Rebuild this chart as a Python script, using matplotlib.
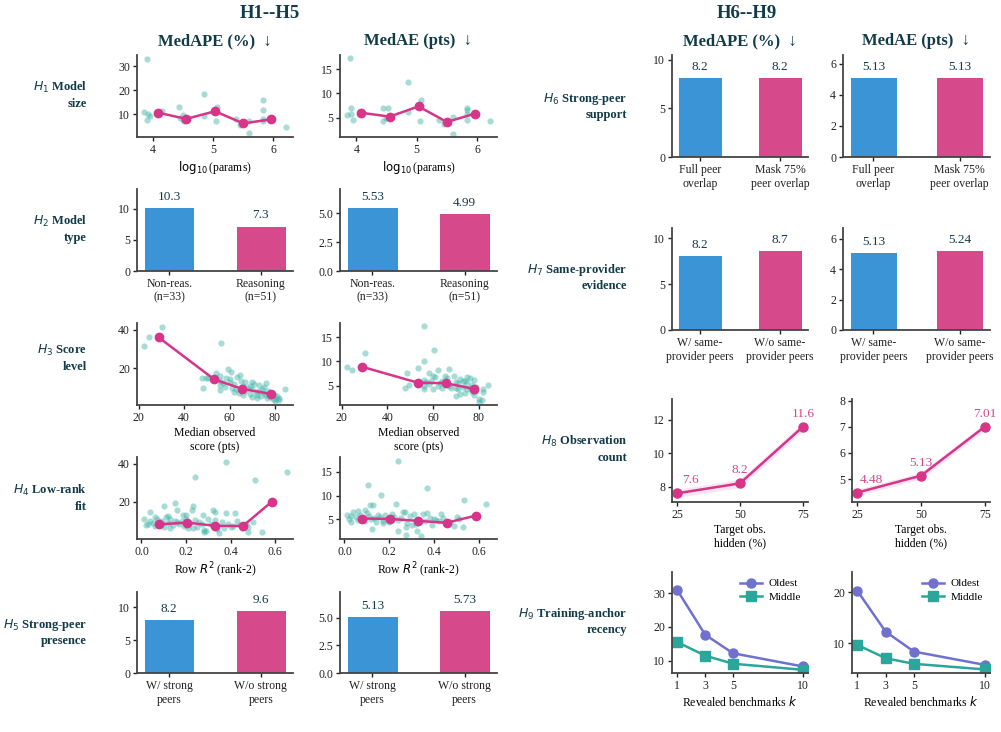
import numpy as np
import matplotlib
matplotlib.use("Agg")
import matplotlib.pyplot as plt

plt.rcParams['font.family'] = ['Liberation Serif', 'DejaVu Serif']

# ---------------- data ----------------
# H1: model size
h1_ape_x = [3.90, 3.85, 3.90, 3.95, 3.91, 4.14, 4.43, 4.44, 4.50, 4.50, 4.52, 4.85, 4.85, 5.07, 5.05,
            5.38, 5.45, 5.60, 5.60, 5.83, 5.83, 5.83, 5.83, 6.21]
h1_ape_y = [33.0, 11.0, 7.5, 9.2, 10.2, 11.3, 13.0, 8.2, 7.5, 9.6, 7.0, 18.3, 9.4, 13.0, 7.0,
            8.0, 5.5, 7.0, 2.0, 16.0, 11.7, 7.8, 7.0, 4.8]
h1_ae_x = [3.90, 3.85, 3.91, 3.91, 3.95, 4.10, 4.44, 4.44, 4.52, 4.50, 4.85, 4.85, 5.07, 5.06,
           5.37, 5.46, 5.60, 5.60, 5.83, 5.83, 5.83, 5.83, 6.21]
h1_ae_y = [17.2, 5.5, 6.9, 5.8, 4.6, 6.1, 6.9, 4.2, 6.9, 5.0, 12.4, 6.2, 8.6, 4.4,
           4.6, 3.7, 5.1, 1.7, 7.0, 6.6, 4.6, 5.8, 4.3]
h1_bin_x = [4.08, 4.55, 5.03, 5.50, 5.96]
h1_bin_ape = [10.6, 8.0, 11.2, 6.1, 7.8]
h1_bin_ae = [6.0, 5.2, 7.3, 4.1, 5.8]

# H2: model type
h2_labels = ["Non-reas.\n(n=33)", "Reasoning\n(n=51)"]
h2_ape = [10.3, 7.3]
h2_ae = [5.53, 4.99]

# H3: score level
h3_ape_x = [22.5, 24.7, 30.2, 56.4, 48.0, 49.5, 48.5, 50.5, 54.0, 56.0, 56.0, 56.0, 56.0, 57.0, 58.5,
            59.5, 60.5, 60.0, 61.0, 62.0, 63.0, 63.5, 64.5, 65.0, 64.0, 66.0, 67.0, 67.0, 68.0, 69.0,
            70.0, 70.0, 71.0, 71.5, 72.0, 73.0, 73.0, 74.0, 74.5, 75.0, 76.0, 76.0, 76.5, 77.0, 78.0,
            78.0, 79.0, 79.5, 80.0, 80.5, 81.0, 82.0, 82.0, 84.5, 69.0, 58.0, 60.0, 62.0, 66.0, 70.0,
            75.0, 72.0, 65.0]
h3_ape_y = [31.5, 36.0, 41.5, 33.0, 15.0, 15.0, 9.3, 14.5, 17.5, 16.0, 11.0, 8.5, 13.0, 12.0, 15.0,
            19.3, 18.0, 12.5, 9.5, 11.5, 9.0, 15.5, 16.5, 13.0, 7.0, 10.5, 12.5, 8.0, 9.5, 6.5,
            9.0, 5.0, 11.5, 7.5, 6.0, 11.0, 8.0, 5.5, 9.0, 7.0, 12.0, 6.0, 4.5, 8.0, 5.0,
            7.0, 3.5, 6.0, 2.5, 4.0, 5.5, 3.0, 4.5, 9.0, 10.5, 10.0, 14.0, 7.5, 6.0, 12.5,
            10.0, 4.5, 8.5]
h3_ae_x = [22.2, 24.3, 30.0, 55.9, 55.9, 60.3, 48.6, 47.6, 49.3, 53.6, 56.0, 56.0, 56.0, 57.0, 58.0,
           59.0, 60.0, 61.0, 62.0, 62.0, 63.0, 64.0, 65.0, 66.0, 67.0, 67.0, 68.0, 69.0, 70.0, 70.0,
           71.0, 71.0, 72.0, 73.0, 73.0, 74.0, 74.0, 75.0, 75.0, 76.0, 76.0, 77.0, 77.0, 78.0, 78.0,
           79.0, 79.0, 80.0, 80.3, 81.4, 82.0, 82.0, 84.0, 70.0, 66.0, 58.0, 60.0, 64.0, 72.0, 75.0]
h3_ae_y = [8.9, 8.2, 11.7, 17.2, 10.1, 12.3, 7.5, 4.5, 5.2, 8.6, 6.2, 5.0, 4.3, 5.8, 7.6,
           6.0, 7.0, 6.8, 8.2, 5.0, 5.5, 4.5, 6.9, 6.5, 8.4, 5.0, 4.6, 6.9, 2.9, 5.8,
           5.6, 4.2, 6.4, 4.8, 5.9, 3.4, 6.0, 4.2, 5.5, 6.5, 4.5, 3.6, 5.2, 6.1, 3.1,
           4.8, 3.8, 2.2, 1.7, 2.0, 3.7, 4.4, 5.1, 4.6, 5.4, 5.3, 4.2, 6.0, 3.2, 6.8]
h3_bin_x = [28.7, 53.3, 65.5, 78.1]
h3_bin_ape = [36.1, 14.0, 9.1, 6.4]
h3_bin_ae = [8.9, 5.6, 5.5, 4.3]

# H4: low-rank fit
h4_ape_x = [0.24, 0.38, 0.51, 0.655, 0.01, 0.03, 0.04, 0.05, 0.10, 0.11, 0.13, 0.15, 0.16, 0.185,
            0.225, 0.23, 0.275, 0.28, 0.32, 0.32, 0.33, 0.35, 0.38, 0.42, 0.40, 0.48, 0.50, 0.54,
            0.48, 0.02, 0.04, 0.06, 0.07, 0.08, 0.09, 0.10, 0.12, 0.12, 0.14, 0.15, 0.17, 0.18,
            0.19, 0.20, 0.21, 0.22, 0.24, 0.25, 0.26, 0.28, 0.30, 0.31, 0.34, 0.36, 0.37, 0.39,
            0.41, 0.43, 0.45, 0.47, 0.06, 0.09, 0.13, 0.16, 0.20, 0.23, 0.27, 0.29, 0.33, 0.44]
h4_ape_y = [33.0, 41.0, 31.5, 36.0, 10.6, 8.1, 14.4, 8.9, 17.7, 12.0, 10.6, 19.1, 15.6, 12.9,
            15.6, 17.9, 12.9, 4.1, 15.6, 7.6, 14.7, 3.3, 13.8, 13.8, 6.7, 4.0, 9.4, 4.1,
            6.7, 7.5, 9.5, 7.0, 11.0, 9.0, 8.0, 6.5, 12.5, 8.5, 7.5, 10.0, 8.0, 9.5,
            7.0, 11.0, 6.0, 8.5, 10.5, 6.5, 9.0, 5.0, 11.0, 8.0, 5.5, 9.0, 6.0, 8.0,
            7.0, 9.5, 6.0, 8.0, 12.0, 10.0, 6.0, 9.0, 13.0, 6.0, 8.0, 4.5, 10.5, 7.5]
h4_ae_x = [0.24, 0.106, 0.162, 0.368, 0.535, 0.633, 0.113, 0.127, 0.23, 0.123, 0.238, 0.276, 0.275,
           0.325, 0.34, 0.35, 0.37, 0.40, 0.46, 0.49, 0.53, 0.43, 0.01, 0.02, 0.03, 0.04, 0.05,
           0.06, 0.07, 0.08, 0.09, 0.10, 0.11, 0.12, 0.14, 0.15, 0.16, 0.17, 0.18, 0.19, 0.20,
           0.21, 0.22, 0.24, 0.25, 0.26, 0.28, 0.29, 0.30, 0.31, 0.33, 0.36, 0.38, 0.39, 0.41,
           0.44, 0.47, 0.50, 0.03, 0.06, 0.09, 0.13, 0.17, 0.21, 0.27, 0.32, 0.42, 0.51]
h4_ae_y = [17.2, 12.2, 10.1, 11.6, 9.0, 8.2, 8.1, 8.1, 8.3, 3.1, 2.5, 1.8, 3.4,
           2.5, 1.6, 6.2, 6.3, 5.2, 4.0, 3.7, 3.5, 6.2, 6.0, 5.0, 4.5, 6.5, 5.5,
           4.8, 6.0, 5.2, 4.6, 6.4, 5.8, 5.0, 4.5, 6.0, 5.5, 4.7, 5.9, 5.1, 4.4,
           6.2, 5.6, 4.8, 5.3, 6.6, 4.2, 5.7, 3.9, 6.1, 5.0, 4.6, 5.4, 3.8, 4.9,
           5.3, 4.4, 5.6, 5.8, 6.8, 7.0, 5.3, 4.3, 5.0, 6.6, 4.0, 4.6, 5.1]
h4_bin_x = [0.08, 0.205, 0.33, 0.455, 0.585]
h4_bin_ape = [8.0, 8.9, 7.2, 7.1, 20.0]
h4_bin_ae = [5.2, 5.1, 4.7, 4.3, 5.8]

# H5: strong-peer presence
h5_labels = ["W/ strong\npeers", "W/o strong\npeers"]
h5_ape = [8.2, 9.6]
h5_ae = [5.13, 5.73]

# H6: strong-peer support
h6_labels = ["Full peer\noverlap", "Mask 75%\npeer overlap"]
h6_ape = [8.2, 8.2]
h6_ae = [5.13, 5.13]

# H7: same-provider evidence
h7_labels = ["W/ same-\nprovider peers", "W/o same-\nprovider peers"]
h7_ape = [8.2, 8.7]
h7_ae = [5.13, 5.24]

# H8: observation count
h8_x = [25, 50, 75]
h8_ape = [7.6, 8.2, 11.6]
h8_ae = [4.48, 5.13, 7.01]
h8_ape_lab = ["7.6", "8.2", "11.6"]
h8_ae_lab = ["4.48", "5.13", "7.01"]

# H9: training-anchor recency
h9_k = [1, 3, 5, 10]
h9_oldest_ape = [30.9, 17.7, 12.2, 8.3]
h9_middle_ape = [15.5, 11.5, 9.1, 7.3]
h9_oldest_ae = [20.3, 12.3, 8.4, 5.8]
h9_middle_ae = [9.7, 7.1, 6.0, 4.9]

# ---------------- style ----------------
W, H = 1001, 732
TXT = '#123b48'
BLUE = '#3b94d6'
PINK = '#d64a8b'
LINE = '#d6358a'
TEAL = '#3db3a6'
OLD = '#7070cf'
MID = '#2aa69a'

fig = plt.figure(figsize=(W / 100, H / 100), dpi=100)


def add_ax(x0, x1, y0, y1):
    ax = fig.add_axes([x0 / W, 1 - y1 / H, (x1 - x0) / W, (y1 - y0) / H])
    for s in ['top', 'right']:
        ax.spines[s].set_visible(False)
    for s in ['left', 'bottom']:
        ax.spines[s].set_color('#444444')
        ax.spines[s].set_linewidth(1.3)
    ax.tick_params(labelsize=8.5, length=3, width=1, colors='#222222', pad=2)
    return ax


def ftext(x, y, s, **kw):
    fig.text(x / W, 1 - y / H, s, **kw)


def scatter_panel(ax, sx, sy, bx, by, xlim, ylim, yticks, xticks, xlabel):
    ax.scatter(sx, sy, s=20, color=TEAL, alpha=0.45, linewidths=0, zorder=2)
    ax.plot(bx, by, color=LINE, lw=1.8, marker='o', ms=6, zorder=3)
    ax.set_xlim(*xlim)
    ax.set_ylim(*ylim)
    ax.set_yticks(yticks)
    ax.set_xticks(xticks)
    ax.set_xlabel(xlabel, fontsize=8.5, labelpad=2)


def bar_panel(ax, labels, vals, fmt, yticks, ytl=None):
    x = np.arange(len(vals))
    ax.bar(x, vals, width=0.55, color=[BLUE, PINK], edgecolor='white', linewidth=0.7)
    for xi, v in zip(x, vals):
        ax.annotate(fmt.format(v), (xi, v), xytext=(0, 3), textcoords='offset points',
                    ha='center', va='bottom', fontsize=9.5, color=TXT)
    ax.set_ylim(0, max(vals) * 1.28)
    ax.set_yticks(yticks)
    if ytl is not None:
        ax.set_yticklabels(ytl)
    ax.set_xticks(x)
    ax.set_xticklabels(labels, fontsize=8.5)


L1 = (137, 293)
L2 = (340, 497)
R1 = (672, 808)

# ---- headers ----
ftext(270, 14, "H1--H5", ha='center', va='center', fontsize=13.5, fontweight='bold', color=TXT)
ftext(747, 14, "H6--H9", ha='center', va='center', fontsize=13.5, fontweight='bold', color=TXT)
ftext(215, 41, "MedAPE (%)  \u2193", ha='center', va='center', fontsize=12, fontweight='bold', color=TXT)
ftext(418, 41, "MedAE (pts)  \u2193", ha='center', va='center', fontsize=12, fontweight='bold', color=TXT)
ftext(740, 41, "MedAPE (%)  \u2193", ha='center', va='center', fontsize=12, fontweight='bold', color=TXT)
ftext(916, 41, "MedAE (pts)  \u2193", ha='center', va='center', fontsize=12, fontweight='bold', color=TXT)

# ---- row labels ----
rowlab = dict(ha='right', va='center', fontsize=9, fontweight='bold', color=TXT,
              multialignment='right', linespacing=1.25)
ftext(87, 95, "$H_1$ Model\nsize", **rowlab)
ftext(87, 229, "$H_2$ Model\ntype", **rowlab)
ftext(87, 358, "$H_3$ Score\nlevel", **rowlab)
ftext(87, 498, "$H_4$ Low-rank\nfit", **rowlab)
ftext(87, 632, "$H_5$ Strong-peer\npresence", **rowlab)
ftext(627, 106, "$H_6$ Strong-peer\nsupport", **rowlab)
ftext(627, 277, "$H_7$ Same-provider\nevidence", **rowlab)
ftext(627, 449, "$H_8$ Observation\ncount", **rowlab)
ftext(627, 621, "$H_9$ Training-anchor\nrecency", **rowlab)

# ---- H1 ----
ax = add_ax(*L1, 55, 137)
scatter_panel(ax, h1_ape_x, h1_ape_y, h1_bin_x, h1_bin_ape, (3.73, 6.33), (0.4, 34.8),
              [10, 20, 30], [4, 5, 6], r"$\log_{10}$(params)")
ax = add_ax(*L2, 55, 137)
scatter_panel(ax, h1_ae_x, h1_ae_y, h1_bin_x, h1_bin_ae, (3.73, 6.33), (1.0, 17.9),
              [5, 10, 15], [4, 5, 6], r"$\log_{10}$(params)")

# ---- H2 ----
ax = add_ax(*L1, 189, 271)
bar_panel(ax, h2_labels, h2_ape, "{:.1f}", [0, 5, 10])
ax = add_ax(*L2, 189, 271)
bar_panel(ax, h2_labels, h2_ae, "{:.2f}", [0, 2.5, 5.0], ["0.0", "2.5", "5.0"])

# ---- H3 ----
ax = add_ax(*L1, 323, 405)
scatter_panel(ax, h3_ape_x, h3_ape_y, h3_bin_x, h3_bin_ape, (19.2, 88), (0.6, 43.6),
              [20, 40], [20, 40, 60, 80], "Median observed\nscore (pts)")
ax = add_ax(*L2, 323, 405)
scatter_panel(ax, h3_ae_x, h3_ae_y, h3_bin_x, h3_bin_ae, (19.2, 88), (1.0, 17.9),
              [5, 10, 15], [20, 40, 60, 80], "Median observed\nscore (pts)")

# ---- H4 ----
ax = add_ax(*L1, 457, 539)
scatter_panel(ax, h4_ape_x, h4_ape_y, h4_bin_x, h4_bin_ape, (-0.02, 0.68), (0.2, 43.7),
              [20, 40], [0.0, 0.2, 0.4, 0.6], "Row $R^2$ (rank-2)")
ax = add_ax(*L2, 457, 539)
scatter_panel(ax, h4_ae_x, h4_ae_y, h4_bin_x, h4_bin_ae, (-0.02, 0.68), (0.9, 18.1),
              [5, 10, 15], [0.0, 0.2, 0.4, 0.6], "Row $R^2$ (rank-2)")

# ---- H5 ----
ax = add_ax(*L1, 592, 673)
bar_panel(ax, h5_labels, h5_ape, "{:.1f}", [0, 5, 10])
ax = add_ax(*L2, 592, 673)
bar_panel(ax, h5_labels, h5_ae, "{:.2f}", [0, 2.5, 5.0], ["0.0", "2.5", "5.0"])

# ---- H6 ----
ax = add_ax(*R1, 55, 157)
bar_panel(ax, h6_labels, h6_ape, "{:.1f}", [0, 5, 10])
ax = add_ax(843, 990, 55, 157)
bar_panel(ax, h6_labels, h6_ae, "{:.2f}", [0, 2, 4, 6])

# ---- H7 ----
ax = add_ax(*R1, 228, 330)
bar_panel(ax, h7_labels, h7_ape, "{:.1f}", [0, 5, 10])
ax = add_ax(843, 990, 228, 330)
bar_panel(ax, h7_labels, h7_ae, "{:.2f}", [0, 2, 4, 6])


# ---- H8 ----
def h8_panel(ax, ys, labs, band, ylim, yticks):
    ys = np.array(ys)
    ax.fill_between(h8_x, ys - band, ys + band, color=LINE, alpha=0.12, linewidth=0)
    ax.plot(h8_x, ys, color=LINE, lw=1.8, marker='o', ms=6.5)
    offs = [(10, 5), (0, 5), (0, 5)]
    for xv, yv, lb, o in zip(h8_x, ys, labs, offs):
        ax.annotate(lb, (xv, yv), xytext=o, textcoords='offset points', ha='center',
                    va='bottom', fontsize=9.5, color='#d6458e')
    ax.set_xlim(23, 77)
    ax.set_ylim(*ylim)
    ax.set_yticks(yticks)
    ax.set_xticks(h8_x)
    ax.set_xlabel("Target obs.\nhidden (%)", fontsize=8.5, labelpad=2)


ax = add_ax(*R1, 399, 502)
h8_panel(ax, h8_ape, h8_ape_lab, 0.25, (7.08, 13.26), [8, 10, 12])
ax = add_ax(852, 990, 399, 502)
h8_panel(ax, h8_ae, h8_ae_lab, 0.13, (4.12, 8.07), [5, 6, 7, 8])


# ---- H9 ----
def h9_panel(ax, old, mid, ylim, yticks):
    ax.plot(h9_k, old, color=OLD, lw=1.8, marker='o', ms=6.5, label='Oldest')
    ax.plot(h9_k, mid, color=MID, lw=1.8, marker='s', ms=6.5, label='Middle')
    ax.set_xlim(0.62, 10.38)
    ax.set_ylim(*ylim)
    ax.set_yticks(yticks)
    ax.set_xticks(h9_k)
    ax.set_xlabel("Revealed benchmarks $k$", fontsize=8.5, labelpad=2)
    ax.legend(loc='upper right', frameon=False, fontsize=8, handlelength=2.0,
              handletextpad=0.6, borderaxespad=0.2, labelspacing=0.35)


ax = add_ax(*R1, 572, 673)
h9_panel(ax, h9_oldest_ape, h9_middle_ape, (6.35, 36.3), [10, 20, 30])
ax = add_ax(852, 990, 572, 673)
h9_panel(ax, h9_oldest_ae, h9_middle_ae, (4.2, 24.0), [10, 20])

fig.savefig("out.png", dpi=100)
